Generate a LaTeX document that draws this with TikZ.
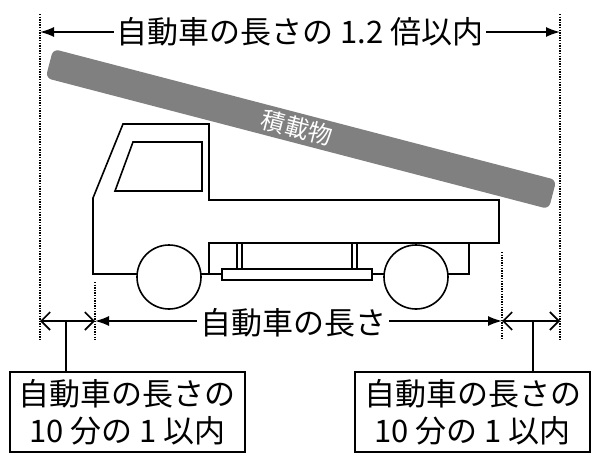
\documentclass[tikz,border=0pt]{standalone}
\usepackage{fontspec}
\setmainfont{Noto Sans CJK JP}
\usetikzlibrary{arrows.meta}
\begin{document}
\begin{tikzpicture}[x=1pt,y=-1pt,
  body/.style={draw=black,line width=1.6pt,line join=miter},
  dots/.style={draw=black,line width=1.3pt,dash pattern=on 1.3pt off 1.3pt},
  dim/.style={line width=1.6pt},
  lbl/.style={font=\fontsize{31}{34}\selectfont,inner sep=3pt,fill=white},
  boxed/.style={draw=black,line width=1.6pt,minimum width=235pt,minimum height=80pt,align=center,font=\fontsize{31}{37}\selectfont,inner sep=0pt}]
\useasboundingbox (0,0) rectangle (600,466);
% truck
\draw[body,fill=white] (123,124) -- (209,124) -- (209,200) -- (499,200) -- (499,243) -- (209,243) -- (209,274) -- (93,274) -- (93,198) -- cycle;
\draw[body] (133,142) -- (202,142) -- (202,191) -- (115,191) -- cycle;
\draw[body] (209,243) -- (469,243) -- (469,274) -- (448,274);
\draw[body] (384,274) -- (372,274);
\draw[body] (201,274) -- (222,274);
\draw[body] (237,243) -- (237,269) (242,243) -- (242,269) (352,243) -- (352,269) (357,243) -- (357,269);
\draw[body,fill=white] (222,269) rectangle (372,280);
\node[circle,draw,line width=1.6pt,fill=white,minimum size=64pt,inner sep=0pt] (w1) at (169,277) {};
\node[circle,draw,line width=1.6pt,fill=white,minimum size=64pt,inner sep=0pt] (w2) at (416,277) {};
% load bar
\begin{scope}[shift={(301,129)},rotate=-14.6]
\fill[black!50,rounded corners=6pt] (-260,-15) rectangle (260,15);
\end{scope}
\node[text=white,font=\fontsize{24}{26}\selectfont,rotate=-14.6,inner sep=0pt] (barl) at (297,128) {積載物};
% dotted guides
\coordinate (ol) at (40,14); \coordinate (olb) at (40,340);
\coordinate (or) at (560,14); \coordinate (orb) at (560,340);
\coordinate (il) at (95,282); \coordinate (ilb) at (95,340);
\coordinate (ir) at (502,252); \coordinate (irb) at (502,340);
\draw[dots] (ol) -- (olb); \draw[dots] (or) -- (orb);
\draw[dots] (il) -- (ilb); \draw[dots] (ir) -- (irb);
% top dimension
\coordinate (t1) at (40,32); \coordinate (t2) at (560,32);
\draw[dim,{Latex[length=14pt,width=10pt]}-{Latex[length=14pt,width=10pt]}] (t1) -- (t2);
\node[lbl] (tl) at (300,32) {自動車の長さの 1.2 倍以内};
% middle
\coordinate (m1) at (95,321); \coordinate (m2) at (502,321);
\draw[dim,{Latex[length=14pt,width=10pt]}-{Latex[length=14pt,width=10pt]}] (m1) -- (m2);
\node[lbl] (ml) at (293,323) {自動車の長さ};
% small
\coordinate (s1) at (40,321); \coordinate (s2) at (560,321);
\draw[dim,{Straight Barb[length=9pt,width=18pt]}-{Straight Barb[length=9pt,width=18pt]}] (s1) -- (m1);
\draw[dim,{Straight Barb[length=9pt,width=18pt]}-{Straight Barb[length=9pt,width=18pt]}] (m2) -- (s2);
\node[boxed] (b1) at (127.5,412) {自動車の長さの\\10 分の 1 以内};
\node[boxed] (b2) at (472.5,412) {自動車の長さの\\10 分の 1 以内};
\coordinate (v1) at (66,321); \coordinate (v2) at (533,321);
\draw[dim] (v1) -- (v1 |- b1.north);
\draw[dim] (v2) -- (v2 |- b2.north);
\end{tikzpicture}
\end{document}
